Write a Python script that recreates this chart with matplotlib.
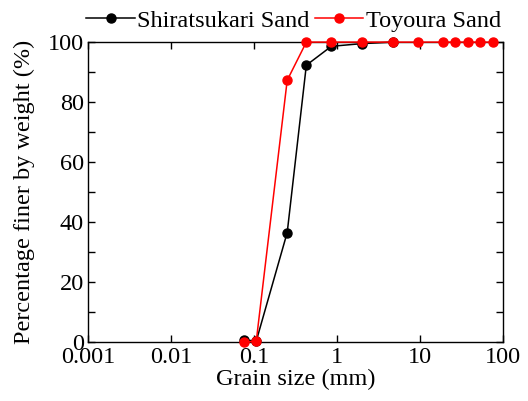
import numpy as np
import matplotlib.pyplot as plt
from matplotlib.ticker import FixedLocator, FixedFormatter, MultipleLocator

plt.rcParams['font.family'] = ['Liberation Serif', 'DejaVu Serif']
plt.rcParams['mathtext.fontset'] = 'stix'

# sieve sizes (mm) and percentage passing
shira_size = [0.075, 0.106, 0.25, 0.425, 0.85, 2.0, 4.75]
shira_pass = [0.8, 0.5, 36.6, 92.3, 98.6, 99.5, 100.0]

toyo_size = [0.075, 0.106, 0.25, 0.425, 0.85, 2.0, 4.75, 9.5, 19.0, 26.5, 37.5, 53.0, 75.0]
toyo_pass = [0.0, 0.5, 87.3, 100.0, 100.0, 100.0, 100.0, 100.0, 100.0, 100.0, 100.0, 100.0, 100.0]

xticks = [0.001, 0.01, 0.1, 1, 10, 100]
xlabels = ['0.001', '0.01', '0.1', '1', '10', '100']

fig = plt.figure(figsize=(5.28, 4.01), dpi=100)
ax = fig.add_axes([0.167, 0.146, 0.786, 0.749])

ax.plot(shira_size, shira_pass, '-o', color='black', lw=1.1, ms=6.5,
        label='Shiratsukari Sand', clip_on=False, zorder=3)
ax.plot(toyo_size, toyo_pass, '-o', color='red', lw=1.1, ms=6.5,
        label='Toyoura Sand', clip_on=False, zorder=4)

ax.set_xscale('log')
ax.set_xlim(0.001, 100)
ax.set_ylim(0, 100)
ax.xaxis.set_major_locator(FixedLocator(xticks))
ax.xaxis.set_major_formatter(FixedFormatter(xlabels))
ax.xaxis.set_minor_locator(FixedLocator([]))
ax.yaxis.set_major_locator(MultipleLocator(20))
ax.yaxis.set_minor_locator(MultipleLocator(10))

ax.tick_params(which='both', direction='in', top=True, right=True,
               labelsize=17.5, width=1.0, length=5)
ax.tick_params(axis='x', pad=3)
ax.tick_params(axis='y', pad=3)
for s in ax.spines.values():
    s.set_linewidth(1.0)

ax.set_xlabel('Grain size (mm)', fontsize=17.5, labelpad=1)
ax.set_ylabel('Percentage finer by weight (%)', fontsize=17.5, labelpad=9)

ax.legend(loc='lower center', bbox_to_anchor=(0.495, 1.035), ncol=2, frameon=False,
          fontsize=17.5, handlelength=2.0, handletextpad=0.1, columnspacing=0.2,
          borderaxespad=0, borderpad=0)

fig.savefig('out.png', dpi=100)
